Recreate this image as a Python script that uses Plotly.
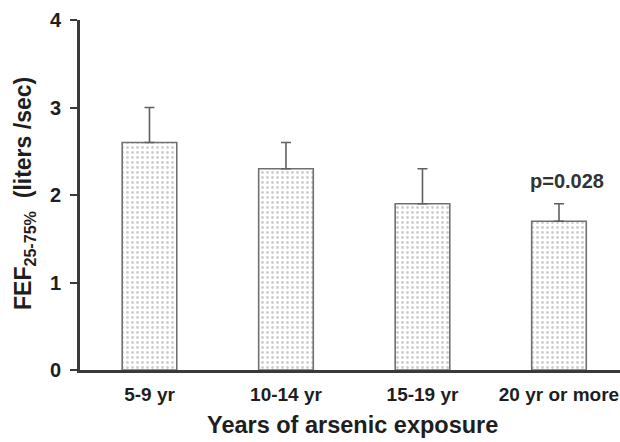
import plotly.graph_objects as go

categories = ["5-9 yr", "10-14 yr", "15-19 yr", "20 yr or more"]
means = [2.6, 2.3, 1.9, 1.7]
err_upper = [0.4, 0.3, 0.4, 0.2]
y_ticks = [0, 1, 2, 3, 4]

FONT = "Liberation Sans, Arial, sans-serif"
AXC = "#3a3a3a"
TXT = "#1e1e1e"

fig = go.Figure()
fig.add_trace(go.Bar(
    x=categories, y=means, width=0.40,
    marker=dict(color="white",
                line=dict(color="#707070", width=1.6),
                pattern=dict(shape=".", fgcolor="#9a9a9a", bgcolor="white", size=5, solidity=0.25)),
    error_y=dict(type="data", symmetric=False, array=err_upper, arrayminus=[0]*len(means),
                 color="#606060", thickness=1.6, width=5),
))

fig.add_annotation(x=categories[3], y=means[3] + err_upper[3], yshift=23, xshift=8,
                   yanchor="middle",
                   text="<b>p=0.028</b>", showarrow=False,
                   font=dict(family=FONT, size=20, color="#333"))
fig.add_annotation(xref="paper", yref="paper", x=(352-80)/540, y=-55/350,
                   text="<b>Years of arsenic exposure</b>", showarrow=False, yanchor="middle",
                   font=dict(family=FONT, size=23.5, color=TXT))
fig.add_annotation(xref="paper", yref="paper", x=-(80-24)/540, y=(370-194)/350, textangle=-90,
                   text="<b>FEF<sub>25-75%</sub>  (liters /sec)</b>", showarrow=False,
                   xanchor="center", yanchor="middle",
                   font=dict(family=FONT, size=23, color=TXT))

fig.update_layout(
    width=620, height=442,
    margin=dict(l=80, r=0, t=20, b=72),
    plot_bgcolor="white", paper_bgcolor="white",
    showlegend=False,
    font=dict(family=FONT, color=TXT),
    xaxis=dict(range=[-0.509, 3.447], showline=True, linecolor=AXC, linewidth=3,
               ticks="", showgrid=False, zeroline=False, ticklabelstandoff=5,
               tickfont=dict(family=FONT, size=19, color=TXT, weight="bold")),
    yaxis=dict(range=[0, 4], tickvals=y_ticks, showline=True, linecolor=AXC, linewidth=3,
               ticks="outside", ticklen=7, tickwidth=2, tickcolor=AXC,
               showgrid=False, zeroline=False, ticklabelstandoff=5,
               tickfont=dict(family=FONT, size=20, color=TXT, weight="bold")),
)

fig.write_html("out.html", config={"displayModeBar": False},
               post_script="document.body.style.margin='0';document.body.style.overflow='hidden';")
